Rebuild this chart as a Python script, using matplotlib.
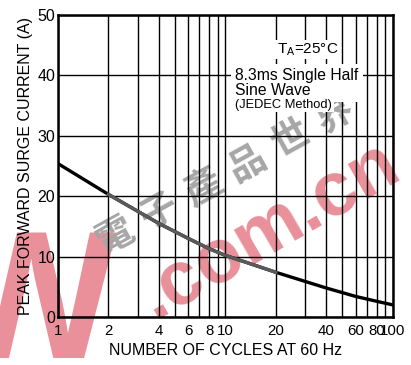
import numpy as np
import matplotlib
matplotlib.use("Agg")
import matplotlib.pyplot as plt

############################
cycles = [1, 2, 4, 6, 8, 10, 20, 40, 60, 80, 100]
surge_current = [25.4, 20.3, 15.5, 13.0, 11.3, 10.2, 7.4, 4.8, 3.4, 2.6, 2.0]
x_tick_values = [1, 2, 4, 6, 8, 10, 20, 40, 60, 80, 100]
x_tick_labels = ['1', '2', '4', '6', '8', '10', '20', '40', '60', '80', '100']
y_tick_values = [0, 10, 20, 30, 40, 50]
note_lines = ['8.3ms Single Half', 'Sine Wave']
watermark_cn = '電子產品世界'
############################

plt.rcParams['font.family'] = ['Liberation Sans', 'DejaVu Sans']

fig = plt.figure(figsize=(4.11, 3.65), dpi=100)
ax = fig.add_axes([0.141, 0.1315, 0.815, 0.8275])
ax.set_facecolor('none')

ax.set_xscale('log')
ax.set_xlim(1, 100)
ax.set_ylim(0, 50)

# grid: every integer inside each decade, horizontal every 10
ax.set_xticks([m * d for d in (1, 10) for m in range(1, 10)] + [100])
ax.set_xticklabels([])
ax.set_xticks([], minor=True)
ax.grid(True, axis='x', color='black', linewidth=1.0)
ax.set_yticks(y_tick_values)
ax.grid(True, axis='y', color='black', linewidth=1.0)
ax.tick_params(length=0, labelsize=11.5, pad=2)

for s in ax.spines.values():
    s.set_linewidth(1.8)

# labels for the log axis
for v, lab in zip(x_tick_values, x_tick_labels):
    ax.text(v, -1.2, lab, ha='center', va='top', fontsize=10.8)
ax.set_yticklabels([str(v) for v in y_tick_values])

# curve (middle part greyed in the scan)
cx = np.array(cycles)
cy = np.array(surge_current)
ax.plot(cx, cy, color='black', linewidth=2.4, zorder=5)
mid = (cx >= 2) & (cx <= 20)
ax.plot(cx[mid], cy[mid], color='#5a5a5a', linewidth=2.4, zorder=6)

ax.set_xlabel('NUMBER OF CYCLES AT 60 Hz', fontsize=11.5, labelpad=17)
ax.set_ylabel('PEAK FORWARD SURGE CURRENT (A)', fontsize=11.5, labelpad=3)

# condition note
ax.text(0.745, 0.885, r'T$_\mathregular{A}$=25°C', transform=ax.transAxes,
        fontsize=11, ha='center', va='center', zorder=8,
        bbox=dict(facecolor='white', edgecolor='none', pad=1))
ax.text(0.53, 0.775, note_lines[0] + '\n' + note_lines[1], transform=ax.transAxes,
        fontsize=11.3, ha='left', va='center', linespacing=1.0, zorder=8,
        bbox=dict(facecolor='white', edgecolor='none', pad=3))
ax.text(0.53, 0.702, '(JEDEC Method)', transform=ax.transAxes,
        fontsize=9.3, ha='left', va='center', zorder=8,
        bbox=dict(facecolor='white', edgecolor='none', pad=1))

# scan watermark, kept behind the grid
fig.text(0.075, 0.02, 'W', color='#e9909a', fontsize=130, fontweight='bold',
         ha='center', va='baseline', zorder=-1)
fig.text(0.655, 0.37, '.com.cn', color='#e9909a', fontsize=55, fontweight='bold',
         ha='center', va='center', rotation=30, zorder=-1)
for i, ch in enumerate(watermark_cn):
    px = 115 + i * 44
    py = 235 - i * 24
    fig.text(px / 411, 1 - py / 365, ch, family=['Noto Sans CJK TC', 'DejaVu Sans'],
             color='#a6a6a6', fontsize=27, fontweight='bold',
             ha='center', va='center', rotation=29, zorder=-1)

fig.savefig('out.png', dpi=100)
